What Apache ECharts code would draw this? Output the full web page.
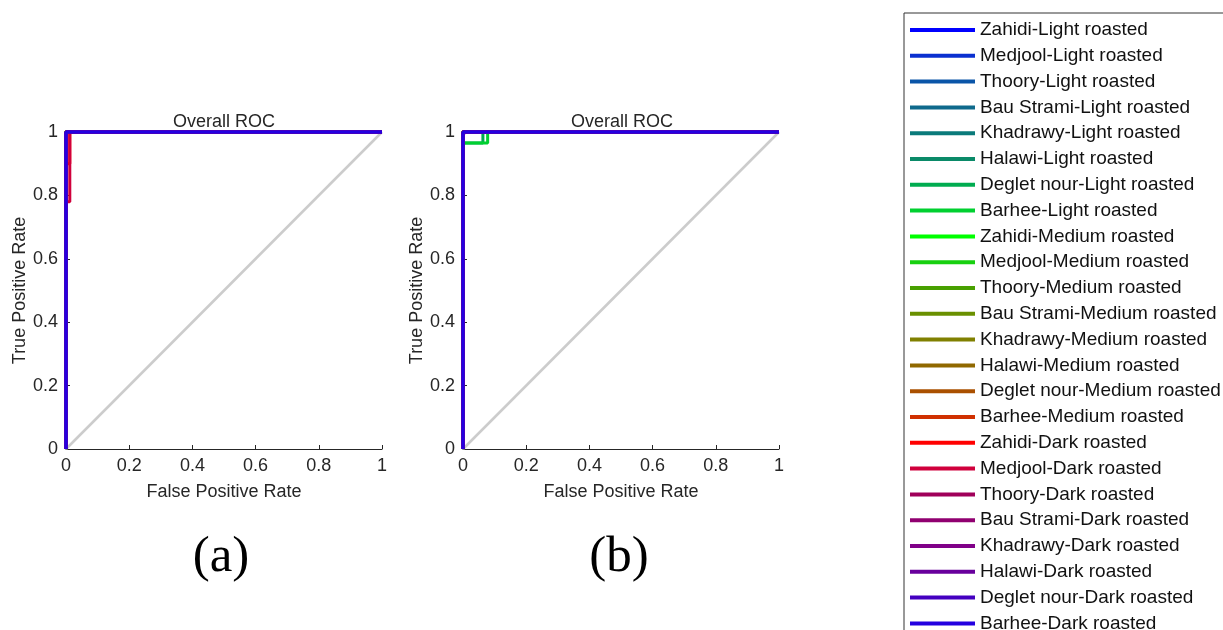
<!DOCTYPE html>
<html>
<head>
<meta charset="utf-8">
<script src="https://cdn.jsdelivr.net/npm/echarts@6/dist/echarts.min.js"></script>
<style>
  html, body { margin: 0; padding: 0; background: #fff; }
  #chart { width: 1223px; height: 630px; }
</style>
</head>
<body>
<div id="chart"></div>
<script>
// class labels (legend order)
const classNames = [
  'Zahidi-Light roasted', 'Medjool-Light roasted', 'Thoory-Light roasted', 'Bau Strami-Light roasted',
  'Khadrawy-Light roasted', 'Halawi-Light roasted', 'Deglet nour-Light roasted', 'Barhee-Light roasted',
  'Zahidi-Medium roasted', 'Medjool-Medium roasted', 'Thoory-Medium roasted', 'Bau Strami-Medium roasted',
  'Khadrawy-Medium roasted', 'Halawi-Medium roasted', 'Deglet nour-Medium roasted', 'Barhee-Medium roasted',
  'Zahidi-Dark roasted', 'Medjool-Dark roasted', 'Thoory-Dark roasted', 'Bau Strami-Dark roasted',
  'Khadrawy-Dark roasted', 'Halawi-Dark roasted', 'Deglet nour-Dark roasted', 'Barhee-Dark roasted'
];

const classColors = [
  '#0000ff', '#0a30d0', '#0a55a8', '#0f6a8c', '#0a7a7a', '#0a8a68', '#00ac50', '#00d030',
  '#00ff00', '#18d010', '#48a000', '#6a9000', '#808000', '#906800', '#aa5000', '#d03000',
  '#ff0000', '#d0003c', '#a0005a', '#900070', '#800088', '#68009c', '#4400c0', '#2400e0'
];

// ROC points [FPR, TPR]
const perfectRoc = [[0, 0], [0, 1], [1, 1]];
const rocZahidiDarkA = [[0, 0], [0, 0.9], [0.012, 0.9], [0.012, 1], [1, 1]];
const rocMedjoolDarkA = [[0, 0], [0, 0.78], [0.012, 0.78], [0.012, 1], [1, 1]];
const rocDegletLightB = [[0, 0], [0, 0.965], [0.063, 0.965], [0.063, 1], [1, 1]];
const rocBarheeLightB = [[0, 0], [0, 0.965], [0.078, 0.965], [0.078, 1], [1, 1]];
const rocMedjoolDarkB = [[0, 0], [0, 0.985], [0.004, 0.985], [0.004, 1], [1, 1]];
const chanceLine = [[0, 0], [1, 1]];

const rocA = classNames.map(n => perfectRoc);
rocA[16] = rocZahidiDarkA;
rocA[17] = rocMedjoolDarkA;

const rocB = classNames.map(n => perfectRoc);
rocB[6] = rocDegletLightB;
rocB[7] = rocBarheeLightB;
rocB[17] = rocMedjoolDarkB;

const textColor = '#262626';
const font = 'Liberation Sans, Arial, sans-serif';

const chart = echarts.init(document.getElementById('chart'));

const makeX = (gi) => ({
  type: 'value', gridIndex: gi, min: 0, max: 1, interval: 0.2,
  name: 'False Positive Rate', nameLocation: 'middle', nameGap: 34,
  nameTextStyle: { color: textColor, fontSize: 18, fontFamily: font },
  axisLine: { show: true, lineStyle: { color: '#262626', width: 1 } },
  axisTick: { show: true, inside: true, length: 4, lineStyle: { color: '#262626' } },
  axisLabel: { color: textColor, fontSize: 18, fontFamily: font, margin: 8,
    formatter: v => String(Math.round(v * 10) / 10) },
  splitLine: { show: false }
});

const makeY = (gi) => ({
  type: 'value', gridIndex: gi, min: 0, max: 1, interval: 0.2,
  name: 'True Positive Rate', nameLocation: 'middle', nameGap: 37,
  nameTextStyle: { color: textColor, fontSize: 18, fontFamily: font },
  axisLine: { show: true, lineStyle: { color: '#262626', width: 1 } },
  axisTick: { show: true, inside: true, length: 4, lineStyle: { color: '#262626' } },
  axisLabel: { color: textColor, fontSize: 18, fontFamily: font, margin: 8,
    formatter: v => String(Math.round(v * 10) / 10) },
  splitLine: { show: false }
});

const series = [];
[rocA, rocB].forEach((roc, gi) => {
  series.push({
    type: 'line', xAxisIndex: gi, yAxisIndex: gi, data: chanceLine,
    showSymbol: false, clip: false, silent: true,
    lineStyle: { color: '#cccccc', width: 2.5 }, z: 1
  });
  classNames.forEach((name, i) => {
    series.push({
      name, type: 'line', xAxisIndex: gi, yAxisIndex: gi, data: roc[i],
      showSymbol: false, clip: false,
      itemStyle: { color: classColors[i] },
      lineStyle: { color: classColors[i], width: 3 }, z: 2
    });
  });
});

chart.setOption({
  animation: false,
  backgroundColor: '#fff',
  title: [
    { text: 'Overall ROC', left: 219, top: 108, textAlign: 'center',
      textStyle: { color: textColor, fontSize: 18, fontWeight: 'normal', fontFamily: font } },
    { text: 'Overall ROC', left: 617, top: 108, textAlign: 'center',
      textStyle: { color: textColor, fontSize: 18, fontWeight: 'normal', fontFamily: font } },
    { text: '(a)', left: 216, top: 527, textAlign: 'center',
      textStyle: { color: '#000', fontSize: 51, fontWeight: 'normal', fontFamily: 'Liberation Serif, Times New Roman, serif' } },
    { text: '(b)', left: 614, top: 527, textAlign: 'center',
      textStyle: { color: '#000', fontSize: 51, fontWeight: 'normal', fontFamily: 'Liberation Serif, Times New Roman, serif' } }
  ],
  legend: {
    orient: 'vertical', left: 904, top: 13, height: 800,
    data: classNames,
    icon: 'rect', itemWidth: 65, itemHeight: 4, itemGap: 5.8, itemTextGap: 5,
    padding: [7, 240, 7, 6],
    borderColor: '#333', borderWidth: 1,
    selectedMode: false,
    textStyle: { color: '#111', fontSize: 19, lineHeight: 20, fontFamily: font }
  },
  grid: [
    { left: 66, top: 132, width: 316, height: 317 },
    { left: 463, top: 132, width: 316, height: 317 }
  ],
  xAxis: [makeX(0), makeX(1)],
  yAxis: [makeY(0), makeY(1)],
  series
});
</script>
</body>
</html>
